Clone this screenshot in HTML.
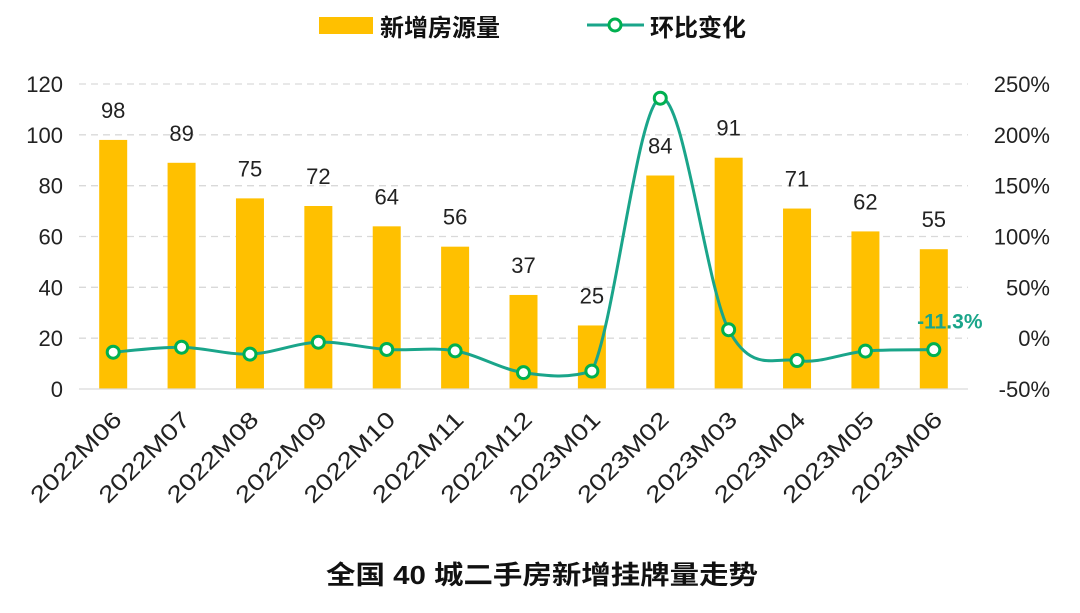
<!DOCTYPE html>
<html><head><meta charset="utf-8"><style>
body{margin:0;background:#fff;}
svg{display:block;font-family:"Liberation Sans","Noto Sans CJK SC",sans-serif;}
</style></head><body>
<svg id="c" width="1080" height="613" viewBox="0 0 1080 613">
<g>
<rect x="319" y="17" width="54" height="17" fill="#ffc000"/>
<text x="380" y="36" font-size="24" font-weight="bold" fill="#111">新增房源量</text>
<line x1="587" y1="25" x2="644" y2="25" stroke="#1aa58a" stroke-width="3"/>
<circle cx="615" cy="25" r="6" fill="#fff" stroke="#00b050" stroke-width="3"/>
<text x="650" y="36" font-size="24" font-weight="bold" fill="#111">环比变化</text>
</g>
<text x="542" y="584" font-size="26" font-weight="bold" text-anchor="middle" textLength="432" lengthAdjust="spacingAndGlyphs" fill="#111">全国 40 城二手房新增挂牌量走势</text>
<g id="grid"></g><g id="bars"></g><g id="line"></g><g id="axes"></g>
</svg>
<script>
const categories=["2022M06","2022M07","2022M08","2022M09","2022M10","2022M11","2022M12","2023M01","2023M02","2023M03","2023M04","2023M05","2023M06"];
const volumes=[98,89,75,72,64,56,37,25,84,91,71,62,55];
const changes=[-13.8,-8.9,-15.7,-4,-11.1,-12.5,-33.9,-32.4,236,8.3,-22,-12.7,-11.3];
const leftTicks=[0,20,40,60,80,100,120];
const rightTicks=[-50,0,50,100,150,200,250];
const NS="http://www.w3.org/2000/svg";
const x0=79,x1=968,yTop=84,yBot=389;
const step=(x1-x0)/categories.length;
const xs=i=>x0+step*(i+0.5);
const yL=v=>yBot-(v/120)*(yBot-yTop);
const yR=v=>yBot-((v+50)/300)*(yBot-yTop);
function mk(t,a,p){const e=document.createElementNS(NS,t);for(const k in a)e.setAttribute(k,a[k]);p.appendChild(e);return e;}
const grid=document.getElementById('grid'),bars=document.getElementById('bars'),line=document.getElementById('line'),axes=document.getElementById('axes');
leftTicks.forEach(v=>{
 if(v>0){const g=mk('line',{x1:x0,x2:x1,y1:yL(v),y2:yL(v),stroke:'#d9d9d9','stroke-width':1.3,'stroke-dasharray':'7,5'},grid);
 
 }
 const t=mk('text',{x:63,y:yL(v)+8,'font-size':22,'text-anchor':'end',fill:'#222'},axes);t.textContent=v;
 
 
});
rightTicks.forEach(v=>{
 const t=mk('text',{x:1050,y:yR(v)+8,'font-size':22,'text-anchor':'end',fill:'#222'},axes);t.textContent=v+'%';
 
 
});
const ax=mk('line',{x1:x0,x2:x1,y1:yBot,y2:yBot,stroke:'#d9d9d9','stroke-width':1.3},axes);


categories.forEach((c,i)=>{
 const x=xs(i);
 const b=mk('rect',{x:x-14,y:yL(volumes[i]),width:28,height:yBot-yL(volumes[i]),fill:'#ffc000'},bars);
 
 
 const l=mk('text',{x:x,y:yL(volumes[i])-22,'font-size':22,'text-anchor':'middle',fill:'#222'},bars);l.textContent=volumes[i];
 
 
 const tx=x+10,ty=yBot+32;
 const t=mk('text',{x:tx,y:ty,'font-size':23,'text-anchor':'end',textLength:118,lengthAdjust:'spacingAndGlyphs',fill:'#222',transform:`rotate(-45 ${tx} ${ty})`},axes);t.textContent=c;
 
 
});
const pts=changes.map((v,i)=>[xs(i),yR(v)]);
let d='M'+pts[0][0]+','+pts[0][1];
for(let i=0;i<pts.length-1;i++){
 const p0=pts[Math.max(0,i-1)],p1=pts[i],p2=pts[i+1],p3=pts[Math.min(pts.length-1,i+2)];
 const k=1/6;
 let c1y=p1[1]+(p2[1]-p0[1])*k, c2y=p2[1]-(p3[1]-p1[1])*k;
 const lo=Math.min(p1[1],p2[1]), hi=Math.max(p1[1],p2[1]);
 if(Math.abs(p2[1]-p1[1])<20){c1y=Math.min(Math.max(c1y,lo-6),hi+6);c2y=Math.min(Math.max(c2y,lo-6),hi+6);}
 d+=` C${p1[0]+(p2[0]-p0[0])*k},${c1y} ${p2[0]-(p3[0]-p1[0])*k},${c2y} ${p2[0]},${p2[1]}`;
}
const path=mk('path',{d:d,fill:'none',stroke:'#1aa58a','stroke-width':3},line);


pts.forEach((p,i)=>{
 const m=mk('circle',{cx:p[0],cy:p[1],r:6,fill:'#fff',stroke:'#00b050','stroke-width':3},line);
 
 
});
const last=changes.length-1;
const lab=mk('text',{x:xs(last)+16,y:yR(changes[last])-21,'font-size':21,'font-weight':'bold','text-anchor':'middle',fill:'#1aa58a'},line);
lab.textContent=changes[last]+'%';


</script>
</body></html>
